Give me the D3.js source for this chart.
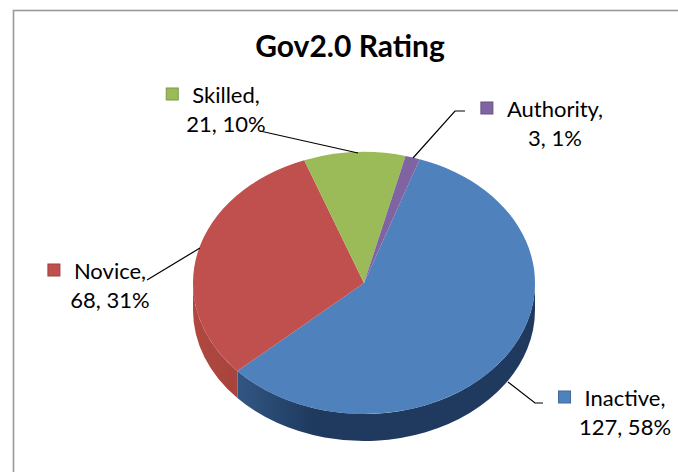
<!DOCTYPE html>
<html><head><meta charset="utf-8">
<script src="https://cdn.jsdelivr.net/npm/d3@7"></script>
<style>body{margin:0;background:#fff;} svg{display:block;}</style>
</head><body>
<svg id="c" width="678" height="472"></svg>
<script>
const title = "Gov2.0 Rating";
const categories = ["Inactive", "Novice", "Skilled", "Authority"];
const values = [127, 68, 21, 3];

const topColors = ["#4F81BD", "#C0504D", "#9BBB59", "#8064A2"];
const sideDark = ["#1F3A5E", "#9A3B39", "#7A9446", "#634C80"];
const sideLight = ["#3D679B", "#B0483F", "#8FAE52", "#7560A0"];

const W = 678, H = 472;
const cx = 364, cy = 283, rx = 171, ry = 131, depth = 27;
const startDeg = 19;

// label layout: center of text block, first baseline, leader polyline
const labelLayout = {
  Inactive: {x: 625, y: 406, line: [[508,382],[535,403],[543,403]]},
  Novice: {x: 110, y: 279, line: [[200,248],[147,280]]},
  Skilled: {x: 226, y: 103, line: [[358,153],[260,131]]},
  Authority: {x: 555, y: 117, line: [[413,158],[455,111],[465,111]]}
};

const svg = d3.select("#c");
svg.append("rect").attr("width", W).attr("height", H).attr("fill", "#fff");
svg.append("rect").attr("x", 13.5).attr("y", 10.5).attr("width", 720).attr("height", 520)
  .attr("fill", "none").attr("stroke", "#9A9A9A").attr("stroke-width", 1.6);

const total = d3.sum(values);
const data = categories.map((c, i) => ({name: c, value: values[i], i}));
const pie = d3.pie().value(d => d.value).sort(null)
  .startAngle(startDeg * Math.PI / 180).endAngle(startDeg * Math.PI / 180 + 2 * Math.PI);
const arcs = pie(data);

const P = (a, dy = 0) => [cx + rx * Math.sin(a), cy - ry * Math.cos(a) + dy];

const defs = svg.append("defs");
categories.forEach((c, i) => {
  const g = defs.append("linearGradient").attr("id", "side" + i)
    .attr("gradientUnits", "userSpaceOnUse")
    .attr("x1", cx - rx).attr("y1", 0).attr("x2", cx + rx).attr("y2", 0);
  g.append("stop").attr("offset", "0%").attr("stop-color", sideLight[i]);
  g.append("stop").attr("offset", "35%").attr("stop-color", sideDark[i]);
  g.append("stop").attr("offset", "100%").attr("stop-color", sideDark[i]);
});

// sides (front half: angles pi/2..3pi/2)
const sideG = svg.append("g");
arcs.forEach(a => {
  [0, 2 * Math.PI].forEach(off => {
    const s = Math.max(a.startAngle, Math.PI / 2 + off);
    const e = Math.min(a.endAngle, 3 * Math.PI / 2 + off);
    if (e > s) {
      const p0 = P(s), p1 = P(e), q1 = P(e, depth), q0 = P(s, depth);
      const d = `M${p0}A${rx},${ry} 0 0 1 ${p1}L${q1}A${rx},${ry} 0 0 0 ${q0}Z`;
      sideG.append("path").attr("d", d).attr("fill", `url(#side${a.data.i})`);
    }
  });
});

// top faces
const topG = svg.append("g");
arcs.forEach(a => {
  const p0 = P(a.startAngle), p1 = P(a.endAngle);
  const large = (a.endAngle - a.startAngle) > Math.PI ? 1 : 0;
  const d = `M${cx},${cy}L${p0}A${rx},${ry} 0 ${large} 1 ${p1}Z`;
  topG.append("path").attr("d", d).attr("fill", topColors[a.data.i]);
});

// title
svg.append("text").attr("x", 350).attr("y", 57).attr("text-anchor", "middle")
  .attr("font-family", "Lato, 'Open Sans', sans-serif").attr("font-weight", "bold")
  .attr("font-size", 30).attr("fill", "#000").text(title);

// labels
const lg = svg.append("g").attr("font-family", "Lato, 'Open Sans', sans-serif")
  .attr("font-size", 22).attr("fill", "#000");
data.forEach(d => {
  const L = labelLayout[d.name];
  const pct = Math.round(d.value / total * 100);
  svg.append("polyline").attr("points", L.line.map(p => p.join(",")).join(" "))
    .attr("fill", "none").attr("stroke", "#000").attr("stroke-width", 1.2);
  const t1 = lg.append("text").attr("x", L.x).attr("y", L.y).attr("text-anchor", "middle").text(d.name + ",");
  lg.append("text").attr("x", L.x).attr("y", L.y + 29).attr("text-anchor", "middle").text(`${d.value}, ${pct}%`);
  const bb = t1.node().getBBox();
  lg.append("rect").attr("x", bb.x - 26).attr("y", L.y - 15).attr("width", 12).attr("height", 12)
    .attr("fill", topColors[d.i]).attr("stroke", d3.color(topColors[d.i]).darker(0.6)).attr("stroke-width", 1);
});
</script>
</body></html>
